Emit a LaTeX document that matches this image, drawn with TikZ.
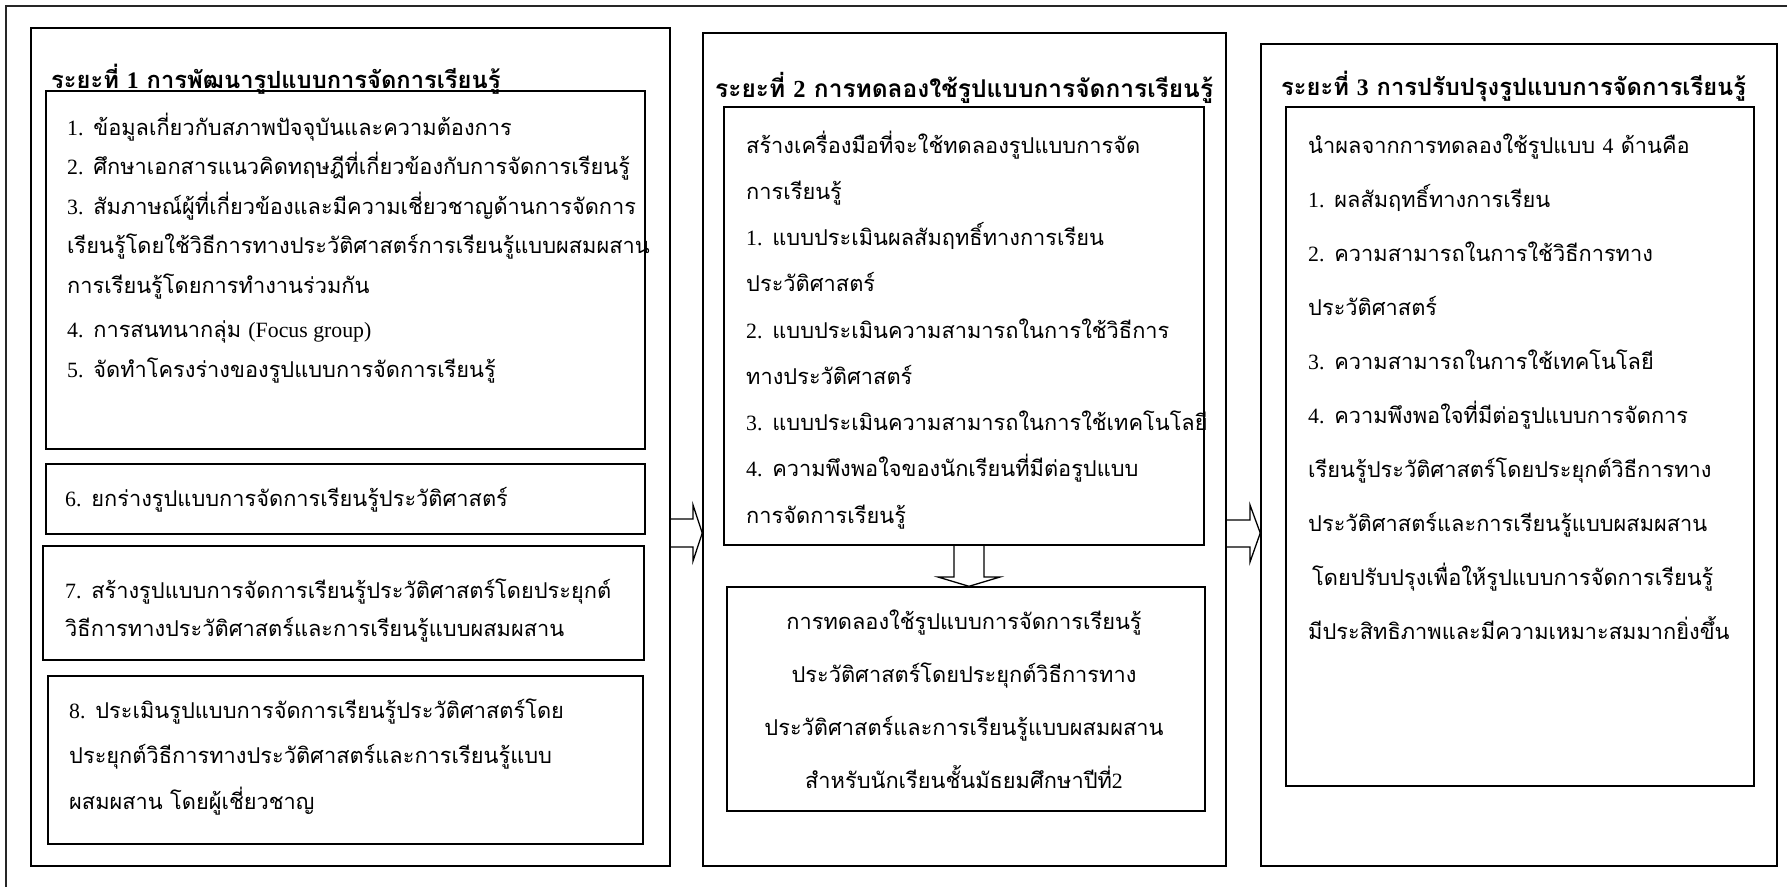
\documentclass[tikz,border=0pt]{standalone}
\usepackage{fontspec}
\setmainfont[Script=Thai]{Loma}
\newfontfamily\latfont{Liberation Serif}
\newcommand{\ziff}[1]{{\latfont #1}}
\tikzset{
    rahmen/.style={
           rectangle,
           draw=black, line width=1.5pt,
           inner sep=0pt},
    kasten/.style={
           rectangle,
           draw=black, line width=1.4pt,
           inner sep=0pt},
    titel/.style={
           anchor=base west,
           inner sep=0pt,
           font=\bfseries\fontsize{#1}{28}\selectfont},
    titel/.default=23.7,
    eintrag/.style={
           anchor=base west,
           inner sep=0pt,
           align=left,
           font=\fontsize{21.8}{#1}\selectfont},
    blockpfeil/.style={
           draw=black, line width=1.3pt,
           line join=miter}
    }
\begin{document}
\begin{tikzpicture}[x=1pt,y=-1pt]
\useasboundingbox (0,0) rectangle (1787,886);
\clip (0,0) rectangle (1787,886);
\draw[black!85, line width=1.6pt] (6,6) rectangle (1800,900);
% phasen
\node[rahmen, minimum width=639, minimum height=838] (p1) at (350.5,447) {};
\node[rahmen, minimum width=523, minimum height=833] (p2) at (964.5,449.5) {};
\node[rahmen, minimum width=516, minimum height=822] (p3) at (1519,455) {};
\node[titel] (ti1) at (51,88) {ระยะที่ \ziff{1} การพัฒนารูปแบบการจัดการเรียนรู้};
\node[titel=24.5] (ti2) at (715,97) {ระยะที่ \ziff{2} การทดลองใช้รูปแบบการจัดการเรียนรู้};
\node[titel] (ti3) at (1281,95) {ระยะที่ \ziff{3} การปรับปรุงรูปแบบการจัดการเรียนรู้};
% kaesten phase 1 (anker = grundlinie der letzten zeile)
\node[kasten, minimum width=599, minimum height=358] (k1) at (345.5,270) {};
\node[kasten, minimum width=599, minimum height=70] (k6) at (345.5,499) {};
\node[kasten, minimum width=601, minimum height=114] (k7) at (343.5,603) {};
\node[kasten, minimum width=595, minimum height=168] (k8) at (345.5,760) {};
\node[eintrag=39.5] (t1) at (67,377) {\ziff{1.} ข้อมูลเกี่ยวกับสภาพปัจจุบันและความต้องการ\\
\ziff{2.} ศึกษาเอกสารแนวคิดทฤษฎีที่เกี่ยวข้องกับการจัดการเรียนรู้\\
\ziff{3.} สัมภาษณ์ผู้ที่เกี่ยวข้องและมีความเชี่ยวชาญด้านการจัดการ\\
เรียนรู้โดยใช้วิธีการทางประวัติศาสตร์การเรียนรู้แบบผสมผสาน\\
การเรียนรู้โดยการทำงานร่วมกัน\\[5pt]
\ziff{4.} การสนทนากลุ่ม \ziff{(Focus group)}\\
\ziff{5.} จัดทำโครงร่างของรูปแบบการจัดการเรียนรู้};
\node[eintrag=38] (t6) at (65,506) {\ziff{6.} ยกร่างรูปแบบการจัดการเรียนรู้ประวัติศาสตร์};
\node[eintrag=38] (t7) at (65,636) {\ziff{7.} สร้างรูปแบบการจัดการเรียนรู้ประวัติศาสตร์โดยประยุกต์\\
วิธีการทางประวัติศาสตร์และการเรียนรู้แบบผสมผสาน};
\node[eintrag=45.5] (t8) at (69,809) {\ziff{8.} ประเมินรูปแบบการจัดการเรียนรู้ประวัติศาสตร์โดย\\
ประยุกต์วิธีการทางประวัติศาสตร์และการเรียนรู้แบบ\\
ผสมผสาน โดยผู้เชี่ยวชาญ};
% kaesten phase 2
\node[kasten, minimum width=480, minimum height=438] (k2a) at (964,326) {};
\node[kasten, minimum width=478, minimum height=224] (k2b) at (966,699) {};
\node[eintrag=46.25] (t2a) at (746,523) {สร้างเครื่องมือที่จะใช้ทดลองรูปแบบการจัด\\
การเรียนรู้\\
\ziff{1.} แบบประเมินผลสัมฤทธิ์ทางการเรียน\\
ประวัติศาสตร์\\
\ziff{2.} แบบประเมินความสามารถในการใช้วิธีการ\\
ทางประวัติศาสตร์\\
\ziff{3.} แบบประเมินความสามารถในการใช้เทคโนโลยี\\
\ziff{4.} ความพึงพอใจของนักเรียนที่มีต่อรูปแบบ\\
การจัดการเรียนรู้};
\node[eintrag=53, align=center, anchor=base] (t2b) at (964,788) {การทดลองใช้รูปแบบการจัดการเรียนรู้\\
ประวัติศาสตร์โดยประยุกต์วิธีการทาง\\
ประวัติศาสตร์และการเรียนรู้แบบผสมผสาน\\
สำหรับนักเรียนชั้นมัธยมศึกษาปีที่\ziff{2}};
% kasten phase 3
\node[kasten, minimum width=468, minimum height=679] (k3) at (1520,446.5) {};
\node[eintrag=54] (t3) at (1308,639) {นำผลจากการทดลองใช้รูปแบบ \ziff{4} ด้านคือ\\
\ziff{1.} ผลสัมฤทธิ์ทางการเรียน\\
\ziff{2.} ความสามารถในการใช้วิธีการทาง\\
ประวัติศาสตร์\\
\ziff{3.} ความสามารถในการใช้เทคโนโลยี\\
\ziff{4.} ความพึงพอใจที่มีต่อรูปแบบการจัดการ\\
เรียนรู้ประวัติศาสตร์โดยประยุกต์วิธีการทาง\\
ประวัติศาสตร์และการเรียนรู้แบบผสมผสาน\\
\hspace*{4pt}โดยปรับปรุงเพื่อให้รูปแบบการจัดการเรียนรู้\\
มีประสิทธิภาพและมีความเหมาะสมมากยิ่งขึ้น};
% pfeile
\draw[blockpfeil] (p1.east |- 0,519) -- (693,519) -- (693,505) -- (p2.west |- 0,533) -- (693,561) -- (693,547) -- (p1.east |- 0,547);
\draw[blockpfeil] (p2.east |- 0,520) -- (1250,520) -- (1250,505) -- (p3.west |- 0,533) -- (1250,562) -- (1250,547) -- (p2.east |- 0,547);
\draw[blockpfeil] (k2a.south -| 954,0) -- (954,577) -- (938,577) -- (k2b.north -| 969,0) -- (1000,577) -- (984,577) -- (k2a.south -| 984,0);
\end{tikzpicture}
\end{document}
